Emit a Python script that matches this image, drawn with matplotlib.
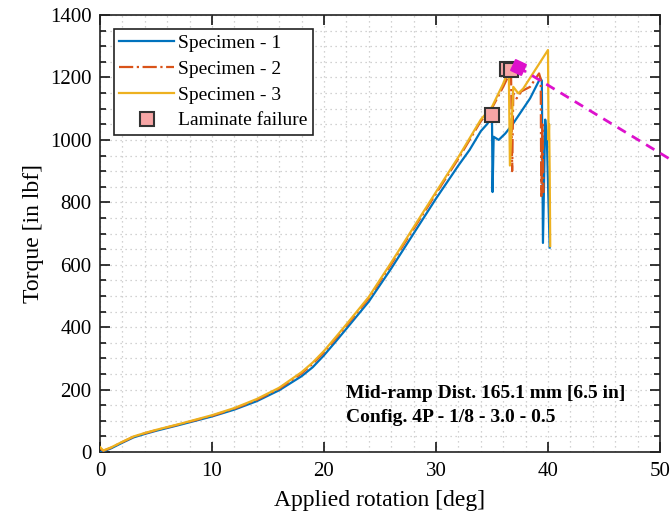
import matplotlib
matplotlib.use("Agg")
import matplotlib.pyplot as plt
from matplotlib.ticker import MultipleLocator

plt.rcParams['font.family'] = ['Liberation Serif', 'DejaVu Serif']

# Specimen 1
rot_1 = [0, 0.3, 1, 2, 3, 4, 5, 7, 10, 12, 14, 16, 18, 19, 20, 21, 22, 24, 26, 28,
         30, 32, 33, 34, 34.6, 35.0, 35.05, 35.15, 35.6, 36.2, 36.9, 37.8, 38.4,
         39.3, 39.45, 39.55, 39.75, 39.9, 40.15]
torque_1 = [0, 2, 12, 30, 47, 58, 68, 86, 114, 136, 163, 198, 243, 272, 310, 352, 395,
            482, 588, 700, 812, 918, 968, 1028, 1052, 1080, 833, 1010, 1000, 1021,
            1053, 1101, 1133, 1197, 1190, 670, 1065, 1000, 655]

# Specimen 2
rot_2 = [0, 0.3, 1, 2, 3, 4, 5, 7, 10, 12, 14, 16, 18, 19, 20, 21, 22, 24, 26, 28,
         30, 32, 33, 34, 35, 36, 36.7, 36.8, 36.9, 37.2, 37.6, 38.4, 39.2, 39.35,
         39.4, 39.5, 39.6]
torque_2 = [12, 4, 14, 32, 49, 60, 70, 88, 116, 139, 167, 203, 252, 283, 320, 362, 405,
            493, 602, 715, 828, 940, 1000, 1060, 1102, 1170, 1222, 900, 1149, 1133,
            1155, 1170, 1213, 1195, 820, 1050, 830]

# Specimen 3
rot_3 = [0, 0.3, 1, 2, 3, 4, 5, 7, 10, 12, 14, 16, 18, 19, 20, 21, 22, 24, 26, 28,
         30, 32, 33, 34, 35, 36, 36.5, 36.6, 36.9, 37.35, 37.8, 40.0, 40.05, 40.1,
         40.15, 40.2]
torque_3 = [16, 5, 15, 33, 50, 61, 71, 89, 118, 141, 170, 206, 256, 287, 324, 366, 409,
            497, 607, 720, 833, 945, 1005, 1065, 1106, 1180, 1226, 918, 1170, 1149,
            1165, 1288, 1000, 1050, 900, 660]

# Laminate failure points
fail_rot = [35.0, 36.3, 36.7]
fail_torque = [1080, 1226, 1224]

# Reference trend line
trend_rot = [37.3, 51.0]
trend_torque = [1234, 936]

fig = plt.figure(figsize=(6.71, 5.19), dpi=100)
ax = fig.add_axes([0.149, 0.129, 0.8346, 0.842])

ax.plot(rot_1, torque_1, color='#0072BD', lw=1.6, label='Specimen - 1', zorder=3)
ax.plot(rot_2, torque_2, color='#D95319', lw=1.6, ls='-.', label='Specimen - 2', zorder=3)
ax.plot(rot_3, torque_3, color='#EDB120', lw=1.6, label='Specimen - 3', zorder=3)
ax.plot(fail_rot, fail_torque, ls='none', marker='s', ms=10, mfc='#F7A6A6',
        mec='#333333', mew=1.5, label='Laminate failure', zorder=4)

ax.plot(trend_rot, trend_torque, color='#DD11CC', lw=2, ls=(0, (3.5, 2.5)),
        clip_on=False, zorder=5)
ax.plot([trend_rot[0]], [trend_torque[0]], ls='none', marker=(4, 0, 20), ms=12,
        mfc='#DD11CC', mec='#DD11CC', clip_on=False, zorder=6)

ax.set_xlim(0, 50)
ax.set_ylim(0, 1400)
ax.xaxis.set_major_locator(MultipleLocator(10))
ax.xaxis.set_minor_locator(MultipleLocator(2))
ax.yaxis.set_major_locator(MultipleLocator(200))
ax.yaxis.set_minor_locator(MultipleLocator(50))

ax.tick_params(which='both', direction='in', top=True, right=True, labelsize=15,
               width=1.1)
ax.tick_params(which='major', length=7.5)
ax.tick_params(which='minor', length=4.5)
ax.tick_params(axis='x', which='minor', length=0)
ax.tick_params(axis='x', pad=7)
ax.tick_params(axis='y', pad=6)

ax.grid(True, which='both', ls=(0, (1, 3)), lw=0.9, color='#c4c4c4')
ax.set_axisbelow(True)
for s in ax.spines.values():
    s.set_linewidth(1.2)
    s.set_color('#222222')

ax.set_xlabel('Applied rotation [deg]', fontsize=17, labelpad=7)
ax.set_ylabel('Torque [in lbf]', fontsize=17, labelpad=4)

leg = ax.legend(loc='upper left', fontsize=14, frameon=True, fancybox=False,
                edgecolor='#222222', framealpha=1, handlelength=2.8,
                borderaxespad=0.7, borderpad=0.3, labelspacing=0.42,
                handletextpad=0.2)
leg.get_frame().set_linewidth(1.2)

ax.text(0.439, 0.106, 'Mid-ramp Dist. 165.1 mm [6.5 in]\nConfig. 4P - 1/8 - 3.0 - 0.5',
        transform=ax.transAxes, fontsize=14, fontweight='bold', va='center',
        ha='left', linespacing=1.55)

fig.savefig('out.png', dpi=100)
